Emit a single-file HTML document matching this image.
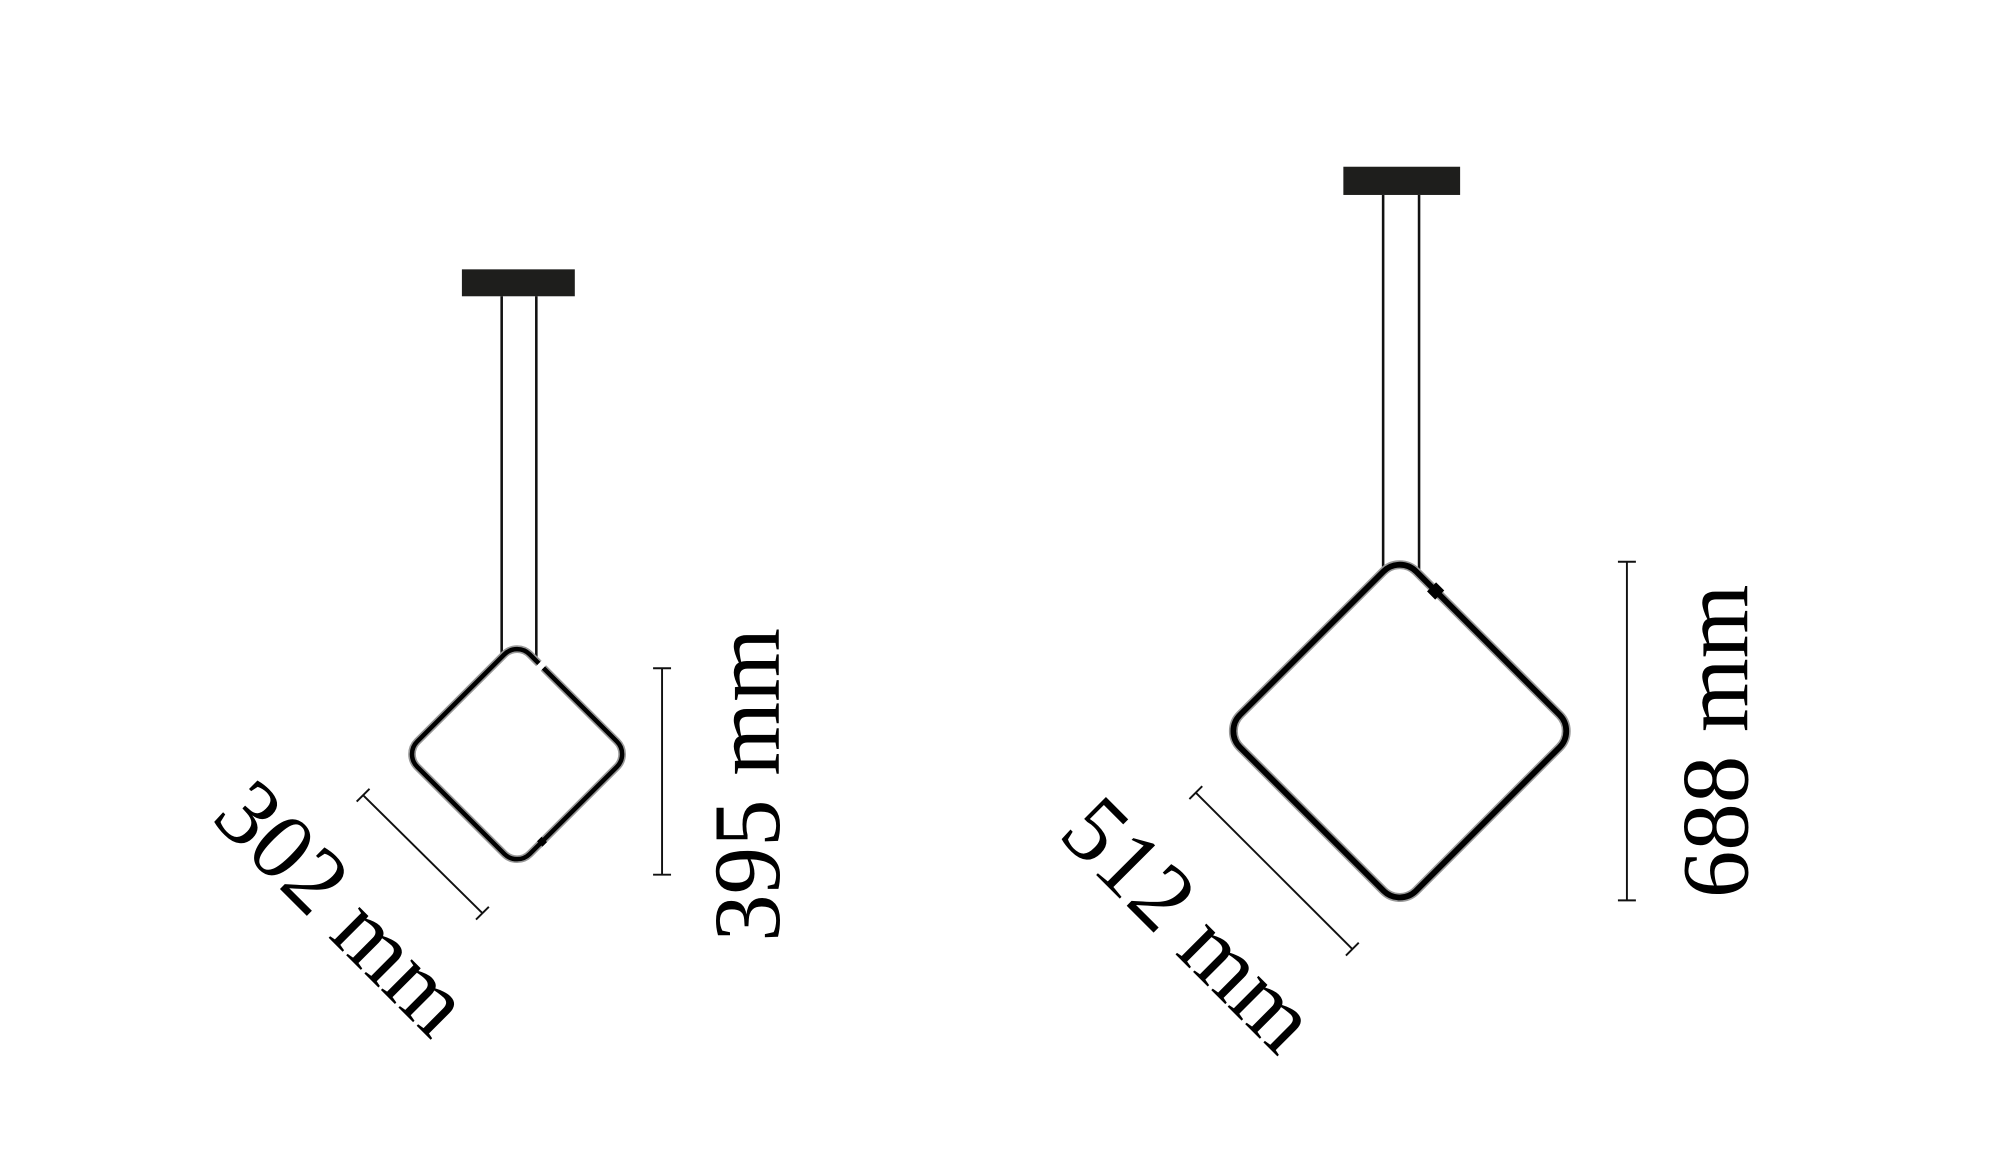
<!DOCTYPE html>
<html><head><meta charset="utf-8"><style>
html,body{margin:0;padding:0;background:#fff;}
svg{display:block;}
text{font-family:"Liberation Serif",serif;fill:#000;}
</style></head><body>
<svg width="1999" height="1171" viewBox="0 0 1558 913" preserveAspectRatio="none" xmlns="http://www.w3.org/2000/svg">
<rect width="1558" height="913" fill="#fff"/>
<!-- small lamp -->
<rect x="360" y="210" width="88" height="21" fill="#1e1e1c"/>
<line x1="391" y1="231" x2="391" y2="512" stroke="#111" stroke-width="2"/>
<line x1="418" y1="231" x2="418" y2="518" stroke="#111" stroke-width="2"/>
<g transform="translate(403,588) rotate(45)">
<rect x="-62" y="-62" width="124" height="124" rx="14" fill="none" stroke="#999" stroke-width="6"/>
<rect x="-62" y="-62" width="124" height="124" rx="14" fill="none" stroke="#000" stroke-width="3.5"/>
<rect x="-38" y="-68" width="5" height="12" fill="#fff"/>
<rect x="59" y="32" width="6" height="5" fill="#000"/>
</g>
<!-- 302 dim -->
<g stroke="#111" stroke-width="1.5">
<line x1="283" y1="620" x2="376" y2="712"/>
<line x1="278" y1="625" x2="288" y2="615"/>
<line x1="371" y1="717" x2="381" y2="707"/>
</g>
<text x="250" y="725" font-size="74" text-anchor="middle" transform="rotate(45 250 725)">302 mm</text>
<!-- 395 dim -->
<g stroke="#111" stroke-width="1.5">
<line x1="516" y1="521" x2="516" y2="682"/>
<line x1="509" y1="521" x2="523" y2="521"/>
<line x1="509" y1="682" x2="523" y2="682"/>
</g>
<text x="607" y="612" font-size="74" text-anchor="middle" transform="rotate(-90 607 612)">395 mm</text>

<!-- large lamp -->
<rect x="1047" y="130" width="91" height="22" fill="#1e1e1c"/>
<line x1="1078" y1="152" x2="1078" y2="442" stroke="#111" stroke-width="2"/>
<line x1="1106" y1="152" x2="1106" y2="444" stroke="#111" stroke-width="2"/>
<g transform="translate(1091,570) rotate(45)">
<rect x="-97" y="-97" width="194" height="194" rx="18" fill="none" stroke="#999" stroke-width="7"/>
<rect x="-97" y="-97" width="194" height="194" rx="18" fill="none" stroke="#000" stroke-width="4.5"/>
<rect x="-62" y="-102" width="9" height="10" fill="#000"/>
</g>
<!-- 512 dim -->
<g stroke="#111" stroke-width="1.5">
<line x1="932" y1="618" x2="1054" y2="740"/>
<line x1="927" y1="623" x2="937" y2="613"/>
<line x1="1049" y1="745" x2="1059" y2="735"/>
</g>
<text x="910" y="738" font-size="74" text-anchor="middle" transform="rotate(45 910 738)">512 mm</text>
<!-- 688 dim -->
<g stroke="#111" stroke-width="1.5">
<line x1="1268" y1="438" x2="1268" y2="702"/>
<line x1="1261" y1="438" x2="1275" y2="438"/>
<line x1="1261" y1="702" x2="1275" y2="702"/>
</g>
<text x="1362" y="578" font-size="74" text-anchor="middle" transform="rotate(-90 1362 578)">688 mm</text>
</svg>
</body></html>
